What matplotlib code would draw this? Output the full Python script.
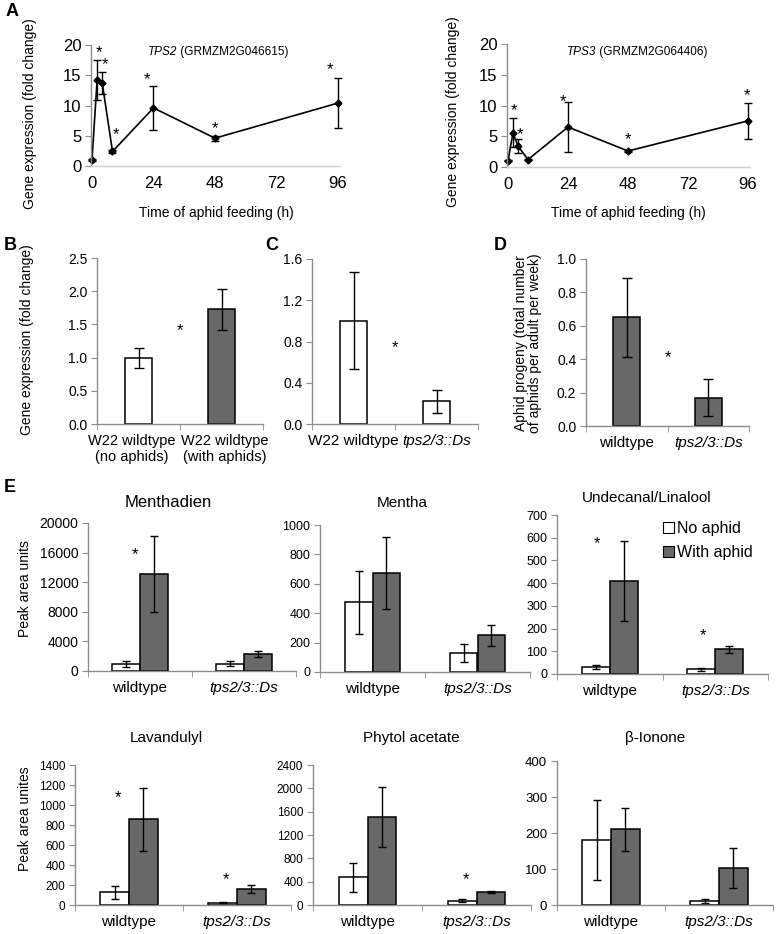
import matplotlib
matplotlib.use('Agg')
import matplotlib.pyplot as plt
from matplotlib.patches import Patch

plt.rcParams['font.family'] = ['Liberation Sans', 'DejaVu Sans']

# ---- data ----
hours = [0, 2, 4, 8, 24, 48, 96]
tps2_expr = [1.0, 14.2, 13.7, 2.4, 9.6, 4.6, 10.4]
tps2_err = [0.1, 3.3, 1.8, 0.3, 3.7, 0.4, 4.1]
tps2_star_x = [2.8, 5.2, 9.3, 21.4, 48, 92.7]
tps2_star_y = [18.8, 16.8, 5.2, 14.3, 6.2, 15.9]
tps3_expr = [1.0, 5.6, 3.4, 1.2, 6.5, 2.6, 7.5]
tps3_err = [0.1, 2.3, 1.1, 0.1, 4.0, 0.2, 2.9]
tps3_star_x = [2.3, 4.6, 21.9, 48, 95.4]
tps3_star_y = [9.2, 5.3, 10.6, 4.4, 11.6]

b_labels = ['W22 wildtype\n(no aphids)', 'W22 wildtype\n(with aphids)']
b_vals = [1.0, 1.73]
b_err = [0.15, 0.31]

genotypes = ['wildtype', 'tps2/3::Ds']
c_labels = ['W22 wildtype', 'tps2/3::Ds']
c_vals = [1.0, 0.22]
c_err = [0.47, 0.11]

d_vals = [0.65, 0.17]
d_err = [0.237, 0.11]

compounds = ['Menthadien', 'Mentha', 'Undecanal/Linalool',
             'Lavandulyl', 'Phytol acetate', 'β-Ionone']
no_aphid = [[950, 990], [473, 129], [31, 21],
            [127, 23], [474, 74], [180, 12]]
no_aphid_err = [[350, 300], [212, 62], [8, 6],
                [68, 5], [254, 30], [111, 6]]
with_aphid = [[13140, 2300], [676, 249], [409, 109],
              [860, 160], [1503, 229], [210, 102]]
with_aphid_err = [[5170, 450], [245, 70], [176, 15],
                  [315, 38], [514, 15], [60, 55]]
# stars as (x, y) in data units
e_stars = [[(-0.05, 15700)], [], [(-0.12, 575), (0.88, 168)],
           [(-0.1, 1077), (0.9, 250)], [(0.9, 429)], []]
e_ylims = [20000, 1000, 700, 1400, 2400, 400]
e_ysteps = [4000, 200, 100, 200, 400, 100]

W, H = 777, 934
fig = plt.figure(figsize=(W / 100, H / 100), dpi=100)
GREY = '#8c8c8c'
DARK = '#686868'


def box(l, t, r, b):
    return [l / W, 1 - b / H, (r - l) / W, (b - t) / H]


def ftext(x, y, s, **kw):
    fig.text(x / W, 1 - y / H, s, ha='center', va='center', **kw)


def style(ax, tick_size):
    for s in ['top', 'right']:
        ax.spines[s].set_visible(False)
    for s in ['left', 'bottom']:
        ax.spines[s].set_color(GREY)
        ax.spines[s].set_linewidth(1.0)
    ax.tick_params(axis='y', direction='out', length=4, color=GREY,
                   labelsize=tick_size, pad=3)


def bar_axes(rect, tick_size, xlabel_size=11):
    ax = fig.add_axes(rect)
    style(ax, tick_size)
    ax.set_xlim(-0.5, 1.5)
    ax.set_xticks([-0.5, 0.5, 1.5], minor=True)
    ax.tick_params(axis='x', which='minor', direction='out', length=4, color=GREY)
    ax.tick_params(axis='x', which='major', length=0, labelsize=xlabel_size, pad=7)
    ax.set_xticks([0, 1])
    return ax


# ---- panel A ----
for rect, xl, vals, errs, sx, sy, gene, acc, tx in [
        (box(91, 45, 340, 166), (-0.39, 96.8), tps2_expr, tps2_err,
         tps2_star_x, tps2_star_y, 'TPS2', ' (GRMZM2G046615)', 148),
        (box(507, 44, 750, 167), (-0.4, 96.8), tps3_expr, tps3_err,
         tps3_star_x, tps3_star_y, 'TPS3', ' (GRMZM2G064406)', 567)]:
    ax = fig.add_axes(rect)
    style(ax, 12)
    ax.spines['bottom'].set_color('#d0d0d0')
    ax.errorbar(hours, vals, yerr=errs, fmt='-D', color='black', ms=3.5,
                lw=1.2, elinewidth=1, capsize=3, clip_on=False)
    ax.set_xlim(*xl)
    ax.set_ylim(0, 20)
    ax.set_yticks(range(0, 21, 5))
    ax.set_xticks([0, 24, 48, 72, 96])
    ax.tick_params(axis='x', length=0, labelsize=12, pad=7)
    for x, y in zip(sx, sy):
        ax.text(x, y, '*', ha='center', va='center', fontsize=12)
    t = fig.text(tx / W, 1 - 52 / H, gene, style='italic', fontsize=8.5, va='center')
    fig.canvas.draw()
    bb = t.get_window_extent()
    fig.text(bb.x1 / W, 1 - 52 / H, acc, fontsize=8.5, va='center')

ftext(30, 114, 'Gene expression (fold change)', rotation=90, fontsize=10)
ftext(453, 112, 'Gene expression (fold change)', rotation=90, fontsize=10)
ftext(216, 213, 'Time of aphid feeding (h)', fontsize=10)
ftext(628, 213, 'Time of aphid feeding (h)', fontsize=10)

# ---- panel B ----
ax = bar_axes(box(97, 258, 263, 424), 10, xlabel_size=10.5)
ax.bar([0, 1], b_vals, width=0.33, yerr=b_err, color=['white', DARK],
       edgecolor='black', lw=1.1, capsize=3.5, error_kw={'elinewidth': 1})
ax.set_ylim(0, 2.5)
ax.set_yticks([0, 0.5, 1.0, 1.5, 2.0, 2.5])
ax.set_yticklabels(['0.0', '0.5', '1.0', '1.5', '2.0', '2.5'])
ax.set_xticks([-0.085, 1.04])
ax.set_xticklabels(b_labels, linespacing=1.2)
ax.text(0.5, 1.4, '*', ha='center', va='center', fontsize=12)
ftext(27, 340, 'Gene expression (fold change)', rotation=90, fontsize=10)

# ---- panel C ----
ax = bar_axes(box(312, 259, 478, 424), 10)
ax.bar([0, 1], c_vals, width=0.33, yerr=c_err, color='white',
       edgecolor='black', lw=1.1, capsize=3.5, error_kw={'elinewidth': 1})
ax.set_ylim(0, 1.6)
ax.set_yticks([0, 0.4, 0.8, 1.2, 1.6])
ax.set_yticklabels(['0.0', '0.4', '0.8', '1.2', '1.6'])
ax.set_xticklabels(c_labels)
ax.get_xticklabels()[1].set_fontstyle('italic')
ax.text(0.5, 0.74, '*', ha='center', va='center', fontsize=12)

# ---- panel D ----
ax = bar_axes(box(586, 259, 749, 426), 10)
ax.bar([0, 1], d_vals, width=0.33, yerr=d_err, color=DARK,
       edgecolor='black', lw=1.1, capsize=3.5, error_kw={'elinewidth': 1})
ax.set_ylim(0, 1.0)
ax.set_yticks([0, 0.2, 0.4, 0.6, 0.8, 1.0])
ax.set_yticklabels(['0.0', '0.2', '0.4', '0.6', '0.8', '1.0'])
ax.set_xticklabels(genotypes)
ax.get_xticklabels()[1].set_fontstyle('italic')
ax.text(0.5, 0.41, '*', ha='center', va='center', fontsize=12)
ftext(528, 343, 'Aphid progeny (total number\nof aphids per adult per week)',
      rotation=90, fontsize=10, linespacing=1.05)

# ---- panel E ----
e_boxes = [box(88, 523, 296, 671), box(320, 525, 530, 672), box(557, 515, 768, 674),
           box(75, 765, 291, 905), box(313, 765, 531, 905), box(557, 761, 773, 905)]
e_titles_xy = [(168, 503), (402, 503), (647, 498), (166, 738), (411, 738), (655, 738)]
e_title_sizes = [12, 11, 11, 11, 11, 11]
e_tick_sizes = [10, 9, 9, 8.5, 8.5, 9.5]
w = 0.265
for i in range(6):
    ax = bar_axes(e_boxes[i], e_tick_sizes[i])
    ax.bar([-w / 2, 1 - w / 2], no_aphid[i], width=w, yerr=no_aphid_err[i],
           color='white', edgecolor='black', lw=1.1, capsize=3,
           error_kw={'elinewidth': 1})
    ax.bar([w / 2, 1 + w / 2], with_aphid[i], width=w, yerr=with_aphid_err[i],
           color=DARK, edgecolor='black', lw=1.1, capsize=3,
           error_kw={'elinewidth': 1})
    ax.set_ylim(0, e_ylims[i])
    ax.set_yticks(range(0, e_ylims[i] + 1, e_ysteps[i]))
    ax.set_xticklabels(genotypes)
    ax.get_xticklabels()[1].set_fontstyle('italic')
    for x, y in e_stars[i]:
        ax.text(x, y, '*', ha='center', va='center', fontsize=12)
    ftext(*e_titles_xy[i], compounds[i], fontsize=e_title_sizes[i])
    if i == 2:
        handles = [Patch(facecolor='white', edgecolor='black', lw=0.8),
                   Patch(facecolor=DARK, edgecolor='black', lw=0.8)]
        ax.legend(handles, ['No aphid', 'With aphid'], loc='upper left',
                  bbox_to_anchor=(663 / W, 1 - 521 / H), bbox_transform=fig.transFigure,
                  frameon=False, fontsize=11.5, handlelength=0.7, handleheight=0.7,
                  handletextpad=0.2, labelspacing=0.55, borderpad=0, borderaxespad=0)

ftext(25, 589, 'Peak area units', rotation=90, fontsize=10)
ftext(25, 819, 'Peak area unites', rotation=90, fontsize=10)

for letter, x, y in [('A', 12, 12), ('B', 10, 246), ('C', 272, 245),
                     ('D', 500, 245), ('E', 10, 488)]:
    ftext(x, y, letter, fontsize=13, fontweight='bold')

plt.savefig('out.png', dpi=100)
